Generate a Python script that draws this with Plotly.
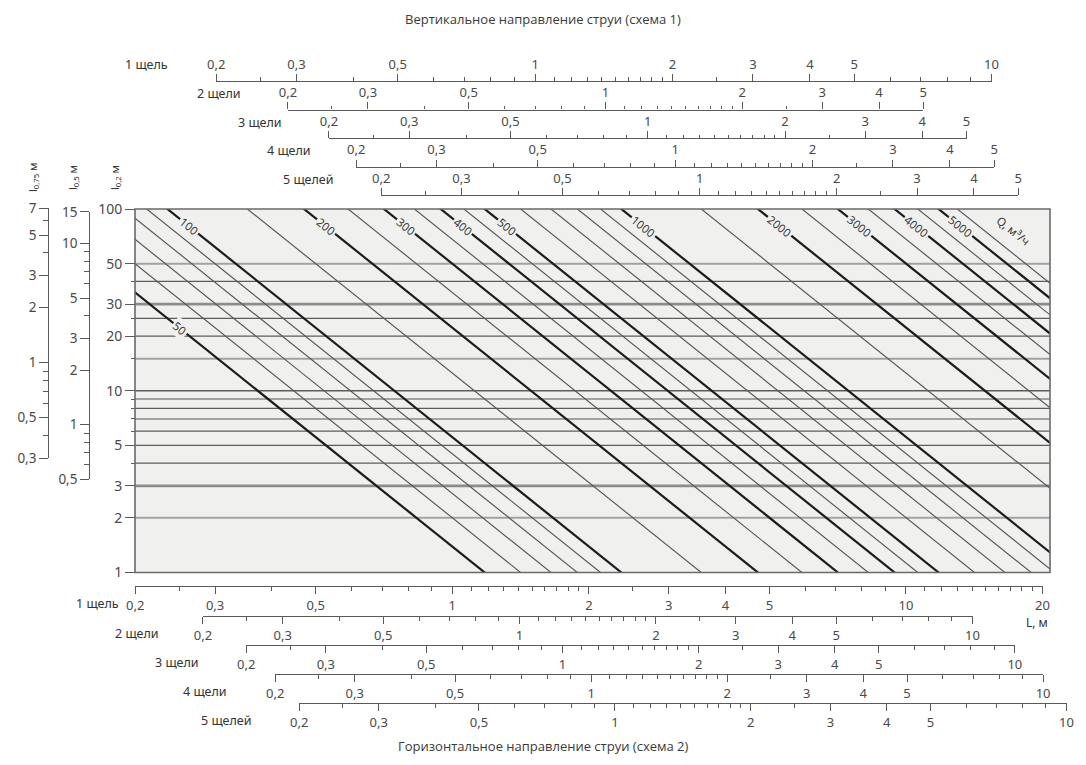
import numpy as np
import plotly.graph_objects as go

W, H = 1086, 765
OFF = 8   # page body margin in the browser

# ---------------- data ----------------
flow_rates = [50, 60, 70, 80, 90, 100, 150, 200, 250, 300, 350, 400, 450, 500,
              600, 700, 800, 900, 1000, 1500, 2000, 2500, 3000, 3500, 4000, 4500, 5000, 5500]
bold_flow_rates = [50, 100, 200, 300, 400, 500, 1000, 2000, 3000, 4000, 5000]
nomogram_coef = 5.56e-4
label_flows = [50, 100, 200, 300, 400, 500, 1000, 2000, 3000, 4000, 5000]
label_levels = [22, 80, 80, 80, 80, 80, 80, 80, 80, 80, 80]   # l0,2 value at each Q label

level_lines = [2, 3, 4, 5, 6, 7, 8, 9, 10, 15, 20, 25, 30, 40, 50]
level_tone = ["l", "t", "d", "d", "d", "l", "d", "l", "d", "l", "d", "d", "t", "d", "l"]

main_l_range = [1, 100]
main_L_range = [0.2, 20.75]
main_y_ticks = [1, 2, 3, 5, 10, 20, 30, 50, 100]
main_y_minor = [4, 6, 7, 8, 9, 15, 25, 40]
l05_range = [0.5, 15]
l05_ticks = [0.5, 1, 2, 3, 5, 10, 15]
l05_minor = [0.6, 0.7, 0.8, 0.9, 4, 6, 7, 8, 9]
l075_range = [0.3, 7]
l075_ticks = [0.3, 0.5, 1, 2, 3, 5, 7]
l075_minor = [0.4, 0.6, 0.7, 0.8, 0.9, 4, 6]

L_major = [0.2, 0.3, 0.5, 1, 2, 3, 4, 5, 10, 20]
L_minor = [0.25, 0.4, 0.6, 0.7, 0.8, 0.9, 1.1, 1.2, 1.3, 1.4, 1.5, 1.6, 1.7, 1.8, 1.9,
           2.5, 6, 7, 8, 9, 11, 12, 13, 14, 15, 16, 17, 18, 19]

slot_names = ["1 щель", "2 щели", "3 щели", "4 щели", "5 щелей"]
scale_min = 0.2
vertical_scale_max = [10, 5, 5, 5, 5]
horizontal_scale_max = [20, 10, 10, 10, 10]

title_top = "Вертикальное направление струи (схема 1)"
title_bottom = "Горизонтальное направление струи (схема 2)"

# ---------------- layout geometry (pixels on the screenshot) ----------------
PX0, PX1, PYT, PYB = 135, 1050, 209, 572.5
top_x0 = [216, 287.7, 328.7, 356, 381]
top_x1 = [991.7, 923.3, 966.7, 994.3, 1018.3]
top_y = [81, 109.5, 138.3, 166.7, 195]
top_name_x = [170, 243, 284, 313, 336]
bot_x0 = [135, 202.7, 246, 275, 299]
bot_x1 = [1042.7, 972.7, 1015, 1043.3, 1066.7]
bot_y = [586, 616, 645, 674, 703.3]
bot_name_x = [121, 161, 201, 229, 254]

AX = "#5a5a5a"
TXT = "#4a4a4a"
BG = "#f0f1ef"
FONT = "Noto Sans"
TF = dict(family=FONT, size=13, color=TXT)


def fx(p):
    return (p - OFF) / W


def fy(p):
    return 1 - (p - OFF) / H


def fmt(v):
    return (str(int(v)) if float(v).is_integer() else str(v)).replace(".", ",")


fig = go.Figure()

# horizontal level lines
tone_style = {"d": ("#5c5c5c", 1.3), "l": ("#a2a2a2", 2.0), "t": ("#8c8c8c", 2.8)}
span = [0.15, 25]
for v, t in zip(level_lines, level_tone):
    c, w = tone_style[t]
    fig.add_trace(go.Scatter(x=span, y=[v, v], mode="lines", line=dict(color=c, width=w),
                             hoverinfo="skip", showlegend=False))

# Q lines
for q in flow_rates:
    bold = q in bold_flow_rates
    ys = [nomogram_coef * (q / L) ** 2 for L in span]
    fig.add_trace(go.Scatter(x=span, y=ys, mode="lines",
                             line=dict(color="#1c1c1c" if bold else "#555555",
                                       width=2.2 if bold else 1.15),
                             hoverinfo="skip", showlegend=False))

# dummy traces so that every extra axis gets drawn
for i in range(2, 12):
    fig.add_trace(go.Scatter(x=[None], y=[None], xaxis=f"x{i}", yaxis="y",
                             hoverinfo="skip", showlegend=False))
for j in (2, 3):
    fig.add_trace(go.Scatter(x=[None], y=[None], xaxis="x", yaxis=f"y{j}",
                             hoverinfo="skip", showlegend=False))

eps = 0.0004


def x_axis(x0, x1, ypos, vmax, side):
    maj = [v for v in L_major if scale_min - 1e-9 <= v <= vmax + 1e-9]
    mnr = [v for v in L_minor if scale_min < v < vmax]
    return dict(type="log", domain=[fx(x0), fx(x1)],
                range=[np.log10(scale_min) - eps, np.log10(vmax) + eps],
                anchor="free", position=fy(ypos), side=side, automargin=False,
                showline=True, linecolor=AX, linewidth=1.3,
                ticks="outside", ticklen=7, tickwidth=1.2, tickcolor=AX,
                tickmode="array", tickvals=maj, ticktext=[fmt(v) for v in maj],
                minor=dict(tickmode="array", tickvals=mnr, ticks="outside", ticklen=3.5,
                           tickwidth=1, tickcolor=AX, showgrid=False),
                showgrid=False, zeroline=False, tickfont=TF, fixedrange=True)


def y_axis(ytop, ybot, rng, xpos, maj, mnr):
    return dict(type="log", domain=[fy(ybot), fy(ytop)],
                range=[np.log10(rng[0]) - eps, np.log10(rng[1]) + eps],
                anchor="free", position=fx(xpos), side="left", automargin=False,
                showline=True, linecolor=AX, linewidth=1.3,
                ticks="outside", ticklen=9, tickwidth=1.2, tickcolor=AX,
                tickmode="array", tickvals=maj, ticktext=[fmt(v) for v in maj],
                minor=dict(tickmode="array", tickvals=mnr, ticks="outside", ticklen=5,
                           tickwidth=1, tickcolor=AX, showgrid=False),
                showgrid=False, zeroline=False, tickfont=dict(family=FONT, size=13.5, color=TXT),
                fixedrange=True)


layout = dict(
    width=W, height=H,
    margin=dict(l=0, r=0, t=0, b=0, pad=0, autoexpand=False),
    paper_bgcolor="white", plot_bgcolor="rgba(0,0,0,0)",
    showlegend=False,
    xaxis=dict(type="log", domain=[fx(PX0), fx(PX1)],
               range=[np.log10(main_L_range[0]), np.log10(main_L_range[1])],
               visible=False, fixedrange=True, automargin=False),
    yaxis=dict(type="log", domain=[fy(PYB), fy(PYT)],
               range=[np.log10(main_l_range[0]), np.log10(main_l_range[1])],
               anchor="free", position=fx(PX0), side="left", automargin=False,
               showline=False, ticks="outside", ticklen=10, tickwidth=1.2, tickcolor=AX,
               tickmode="array", tickvals=main_y_ticks, ticktext=[fmt(v) for v in main_y_ticks],
               minor=dict(tickmode="array", tickvals=main_y_minor, ticks="outside", ticklen=4,
                          tickwidth=1, tickcolor=AX, showgrid=False),
               showgrid=False, zeroline=False,
               tickfont=dict(family=FONT, size=14, color=TXT), fixedrange=True),
    yaxis2=y_axis(211.7, 479.3, l05_range, 89.3, l05_ticks, l05_minor),
    yaxis3=y_axis(208.3, 458.3, l075_range, 48.3, l075_ticks, l075_minor),
)
for i in range(5):
    layout[f"xaxis{2 + i}"] = x_axis(top_x0[i], top_x1[i], top_y[i], vertical_scale_max[i], "top")
    layout[f"xaxis{7 + i}"] = x_axis(bot_x0[i], bot_x1[i], bot_y[i], horizontal_scale_max[i], "bottom")
fig.update_layout(**layout)

# plot area
fig.add_shape(type="rect", xref="x domain", yref="y domain", x0=0, x1=1, y0=0, y1=1,
              fillcolor=BG, line=dict(width=0), layer="below")
fig.add_shape(type="rect", xref="x domain", yref="y domain", x0=0, x1=1, y0=0, y1=1,
              fillcolor="rgba(0,0,0,0)", line=dict(color="#6a6a6a", width=1.6), layer="above")

ann = []
angle = float(np.degrees(np.arctan(2 * (PYB - PYT) / 2 /
                                    ((PX1 - PX0) / np.log10(main_L_range[1] / main_L_range[0])))))
for q, lev in zip(label_flows, label_levels):
    L = q * np.sqrt(nomogram_coef / lev)
    ann.append(dict(x=np.log10(L), y=np.log10(lev), xref="x", yref="y", text=str(q),
                    xanchor="center", yanchor="middle",
                    showarrow=False, textangle=angle, bgcolor=BG, borderpad=1,
                    font=dict(family=FONT, size=11.5, color="#3a3a3a")))
ann.append(dict(x=np.log10(17.2), y=np.log10(76), xref="x", yref="y", text="Q, м³/ч",
                xanchor="center", yanchor="middle",
                showarrow=False, textangle=angle, bgcolor=BG, borderpad=1,
                font=dict(family=FONT, size=11.5, color="#3a3a3a")))


def paper_text(xp, yp, text, size=12.5, anchor="center", angle_=0, family=FONT, color="#333"):
    return dict(x=fx(xp), y=fy(yp), xref="paper", yref="paper", text=text, showarrow=False,
                xanchor=anchor, yanchor="middle", textangle=angle_,
                font=dict(family=family, size=size, color=color))


for i in range(5):
    ann.append(paper_text(top_name_x[i], top_y[i] - 16, slot_names[i], anchor="right"))
    ann.append(paper_text(bot_name_x[i], bot_y[i] + 17, slot_names[i], anchor="right"))

ann.append(paper_text(1037, 622, "L, м", size=12))

for xp, sub in [(33, "0,75"), (73, "0,5"), (115, "0,2")]:
    ann.append(paper_text(xp, 178, f"l<sub>{sub}</sub> м", size=11, angle_=-90))

ann.append(paper_text(543, 19, title_top, size=13, family="Open Sans", color="#3a3a3a"))
ann.append(paper_text(543, 746, title_bottom, size=13, family="Open Sans", color="#3a3a3a"))

fig.update_layout(annotations=ann)
fig.write_html("out.html")
